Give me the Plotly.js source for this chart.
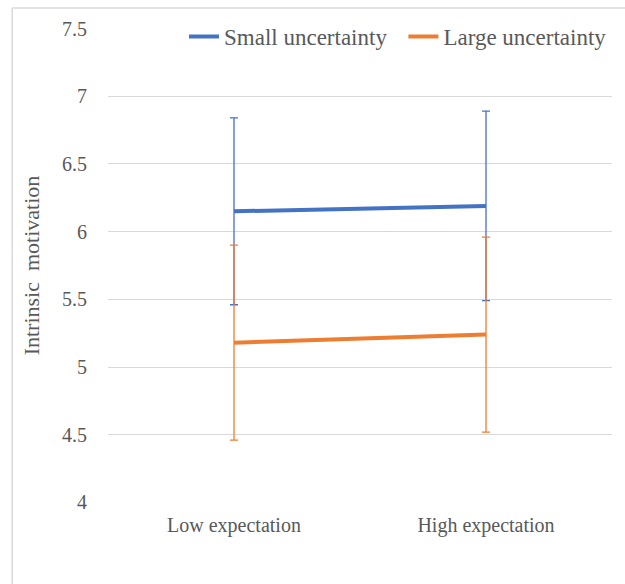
<!DOCTYPE html>
<html>
<head>
<meta charset="utf-8">
<script src="https://cdn.plot.ly/plotly-3.0.1.min.js"></script>
<style>html,body{margin:0;padding:0;background:#fff;}#chart{width:625px;height:584px;}</style>
</head>
<body>
<div id="chart"></div>
<script>
var categories = ["Low expectation", "High expectation"];
var seriesNames = ["Small uncertainty", "Large uncertainty"];
var smallMean = [6.15, 6.19];
var smallErr = [0.69, 0.70];
var largeMean = [5.18, 5.24];
var largeErr = [0.72, 0.72];
var yTicks = [4, 4.5, 5, 5.5, 6, 6.5, 7, 7.5];
var yTickText = ["4", "4.5", "5", "5.5", "6", "6.5", "7", "7.5"];

var font = "Liberation Serif";

var traces = [
  {
    x: categories, y: smallMean, type: "scatter", mode: "lines",
    name: seriesNames[0] + "\u00a0\u00a0",
    line: {color: "#4472C4", width: 4},
    error_y: {type: "data", array: smallErr, visible: true, color: "#4472C4", thickness: 1.3, width: 4}
  },
  {
    x: categories, y: largeMean, type: "scatter", mode: "lines",
    name: seriesNames[1],
    line: {color: "#ED7D31", width: 4},
    error_y: {type: "data", array: largeErr, visible: true, color: "#ED7D31", thickness: 1.3, width: 4}
  }
];

var layout = {
  width: 625, height: 584,
  margin: {l: 108, r: 13, t: 28, b: 81},
  paper_bgcolor: "#fff", plot_bgcolor: "#fff",
  font: {family: font, color: "#595959", size: 20},
  showlegend: true,
  legend: {
    orientation: "h", x: 1, xanchor: "right", y: 0.982, yanchor: "middle",
    bgcolor: "rgba(0,0,0,0)", font: {family: font, size: 23, color: "#595959"},
    itemwidth: 30, tracegroupgap: 0
  },
  xaxis: {
    type: "category", range: [-0.5, 1.5],
    showgrid: false, zeroline: false, showline: false,
    ticks: "", ticklabelstandoff: 8,
    tickfont: {family: font, size: 20, color: "#595959"}
  },
  yaxis: {
    range: [3.996, 7.504], tickvals: yTicks, ticktext: yTickText,
    showgrid: true, gridcolor: "#d9d9d9", gridwidth: 1,
    zeroline: false, showline: false, ticks: "", ticklen: 0,
    ticklabelstandoff: 20,
    tickfont: {family: font, size: 20, color: "#595959"},
    title: {text: "Intrinsic  motivation", font: {family: font, size: 22, color: "#595959"}, standoff: 16}
  },
  shapes: [
    {type: "line", xref: "paper", yref: "paper", x0: -0.19, x1: 1.05, y0: 1.042, y1: 1.042, line: {color: "#d9d9d9", width: 1.5}},
    {type: "line", xref: "paper", yref: "paper", x0: -0.19, x1: -0.19, y0: 1.042, y1: -0.2, line: {color: "#d9d9d9", width: 1.5}}
  ]
};

Plotly.newPlot("chart", traces, layout, {displayModeBar: false, staticPlot: true});
</script>
</body>
</html>
